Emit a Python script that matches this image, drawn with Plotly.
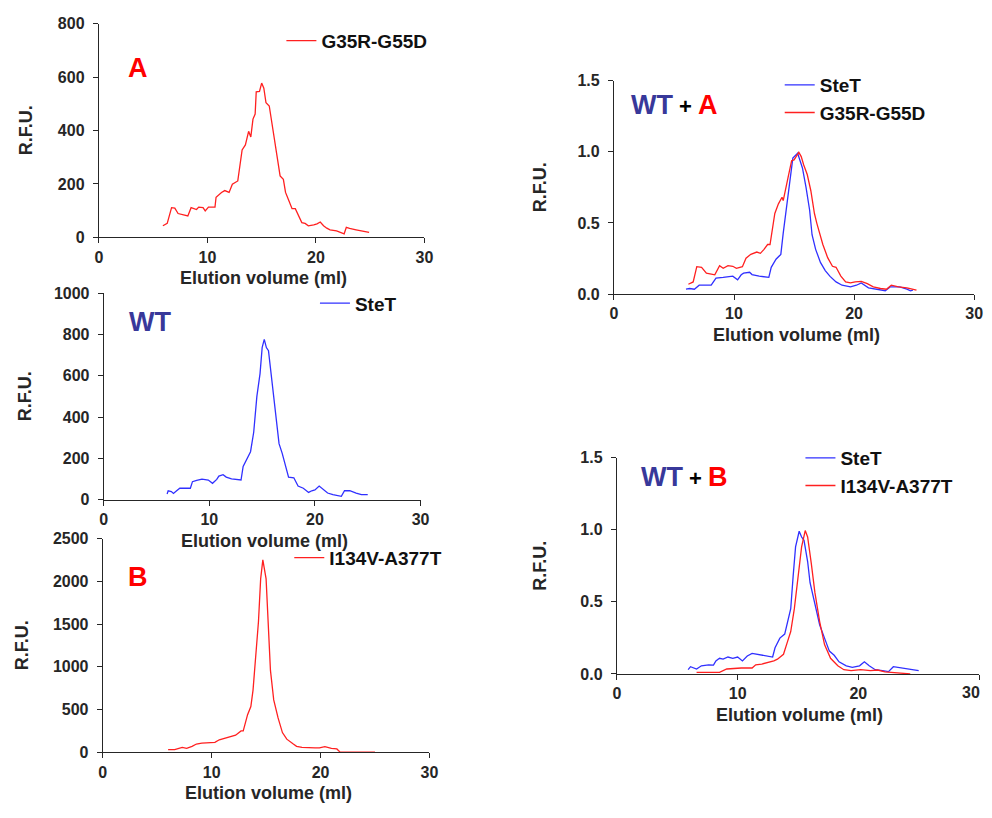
import plotly.graph_objects as go

# ---------------- data ----------------
x_ticks = [0, 10, 20, 30]
x_tick_text = ["0", "10", "20", "30"]

# Panel A : G35R-G55D (raw R.F.U.)
a_vol = [5.9, 6.3, 6.7, 7.0, 7.3, 7.9, 8.2, 8.5, 9.0, 9.2, 9.6, 9.8, 10.1, 10.7, 10.8, 11.3, 11.6, 12.0,
         12.3, 12.8, 12.9, 13.2, 13.5, 13.8, 14.0, 14.2, 14.4, 14.5, 14.8, 15.0, 15.2, 15.4, 15.7, 15.9,
         16.1, 16.4, 16.7, 17.0, 17.2, 17.5, 17.8, 18.1, 18.4, 18.7, 19.0, 19.3, 19.8, 20.1, 20.4, 20.7,
         21.0, 21.3, 21.9, 22.5, 22.6, 22.8, 23.1, 23.7, 24.2, 24.6, 24.9]
a_rfu = [43, 52, 111, 109, 89, 83, 80, 111, 104, 113, 111, 99, 113, 113, 150, 168, 175, 168,
         199, 211, 236, 327, 346, 397, 376, 443, 462, 545, 547, 578, 559, 504, 492, 437,
         376, 297, 230, 217, 168, 138, 107, 107, 83, 55, 52, 43, 46, 50, 57, 43,
         34, 28, 24, 16, 13, 37, 33, 28, 24, 18, 18]

# Panel WT : SteT (raw R.F.U.)
wt_vol = [6.0, 6.1, 6.4, 6.6, 6.9, 7.2, 8.2, 8.4, 8.8, 9.3, 9.9, 10.3, 10.7, 10.9, 11.3, 11.6, 12.1,
          13.0, 13.2, 13.6, 13.9, 14.2, 14.5, 14.8, 15.0, 15.2, 15.4, 15.6, 16.0, 16.2, 16.4, 16.6,
          16.9, 17.2, 17.5, 18.0, 18.4, 18.9, 19.4, 19.7, 20.0, 20.4, 20.8, 21.2, 21.7, 22.2, 22.5,
          22.8, 23.3, 23.9, 24.4, 25.0]
wt_rfu = [27, 43, 39, 30, 43, 55, 55, 87, 93, 99, 95, 79, 98, 114, 121, 109, 101,
          95, 161, 200, 232, 326, 500, 610, 736, 776, 736, 721, 531, 460, 358, 271,
          224, 169, 109, 106, 66, 55, 35, 43, 47, 66, 47, 32, 24, 19, 16,
          43, 43, 32, 24, 24]

# Panel B : I134V-A377T (raw R.F.U.)
b_vol = [6.0, 6.6, 7.3, 7.7, 8.2, 8.6, 9.1, 9.7, 10.3, 10.7, 11.2, 11.8, 12.2, 12.7, 12.9, 13.3,
         13.6, 13.8, 14.0, 14.3, 14.5, 14.7, 15.0, 15.2, 15.4, 15.7, 16.1, 16.5, 16.9, 17.5, 17.8,
         18.3, 18.9, 19.5, 19.9, 20.4, 21.0, 21.5, 21.8, 25.0]
b_rfu = [31, 31, 57, 46, 69, 96, 107, 115, 115, 146, 161, 180, 199, 249, 249, 440,
         536, 728, 1073, 1532, 2030, 2253, 2030, 1456, 958, 613, 402, 230, 153, 96, 69,
         57, 50, 50, 50, 65, 46, 38, 0, 0]

# Panel WT + A (normalised R.F.U.)
wta_stet_vol = [6.0, 6.3, 6.7, 7.1, 8.1, 8.5, 9.1, 9.5, 9.9, 10.3, 10.6, 10.8, 11.3, 11.5, 12.1, 12.9,
                13.1, 13.5, 13.9, 14.1, 14.4, 14.7, 14.9, 15.3, 15.5, 15.7, 16.0, 16.3, 16.5, 16.8,
                17.2, 17.6, 18.0, 18.5, 19.0, 19.7, 20.2, 20.6, 21.2, 21.9, 22.6, 23.0, 23.8, 24.4,
                24.7, 24.9]
wta_stet_rfu = [0.034, 0.039, 0.034, 0.062, 0.062, 0.112, 0.117, 0.119, 0.126, 0.100, 0.135, 0.147,
                0.153, 0.137, 0.126, 0.117, 0.188, 0.245, 0.279, 0.428, 0.634, 0.840, 0.955, 0.990,
                0.932, 0.886, 0.749, 0.589, 0.417, 0.314, 0.222, 0.165, 0.124, 0.085, 0.062, 0.050,
                0.062, 0.078, 0.044, 0.032, 0.023, 0.050, 0.050, 0.034, 0.023, 0.027]
wta_mut_vol = [6.2, 6.6, 6.9, 7.3, 7.7, 8.4, 8.8, 9.1, 9.5, 9.9, 10.2, 10.7, 11.0, 11.4, 11.9, 12.2,
               12.5, 12.8, 13.0, 13.2, 13.4, 13.7, 14.0, 14.1, 14.3, 14.5, 14.8, 15.0, 15.4, 15.6,
               15.8, 16.1, 16.4, 16.7, 16.9, 17.4, 17.8, 18.2, 18.5, 18.9, 19.3, 19.7, 20.1, 20.6,
               21.1, 21.6, 22.2, 22.7, 23.1, 23.7, 24.4, 24.9, 25.2]
wta_mut_rfu = [0.069, 0.085, 0.192, 0.188, 0.147, 0.135, 0.199, 0.181, 0.199, 0.195, 0.181, 0.192,
               0.252, 0.279, 0.295, 0.286, 0.314, 0.348, 0.348, 0.474, 0.566, 0.634, 0.680, 0.657,
               0.749, 0.818, 0.937, 0.943, 0.996, 0.966, 0.909, 0.840, 0.726, 0.566, 0.497, 0.348,
               0.256, 0.195, 0.188, 0.126, 0.085, 0.078, 0.085, 0.089, 0.073, 0.050, 0.039, 0.034,
               0.062, 0.050, 0.044, 0.034, 0.027]

# Panel WT + B (normalised R.F.U.)
wtb_stet_vol = [5.9, 6.1, 6.6, 7.0, 7.6, 8.0, 8.2, 8.5, 8.8, 9.2, 9.6, 10.0, 10.4, 10.8, 11.2, 11.6,
                12.2, 12.9, 13.1, 13.5, 13.9, 14.4, 14.6, 14.8, 15.1, 15.3, 15.5, 15.8, 16.0, 16.4,
                16.8, 17.2, 17.6, 18.0, 18.4, 19.0, 19.5, 20.1, 20.5, 20.9, 21.4, 22.0, 22.5, 22.9,
                23.6, 24.3, 25.0]
wtb_stet_rfu = [0.029, 0.050, 0.034, 0.056, 0.063, 0.061, 0.090, 0.108, 0.102, 0.117, 0.108, 0.117,
                0.090, 0.124, 0.142, 0.135, 0.124, 0.117, 0.181, 0.248, 0.276, 0.452, 0.678, 0.881,
                0.989, 0.949, 0.926, 0.779, 0.632, 0.474, 0.339, 0.248, 0.158, 0.129, 0.084, 0.056,
                0.045, 0.056, 0.084, 0.056, 0.029, 0.023, 0.016, 0.050, 0.041, 0.029, 0.023]
wtb_mut_vol = [6.6, 7.6, 8.1, 8.5, 9.1, 9.7, 10.3, 11.2, 11.5, 12.0, 12.6, 13.0, 13.3, 13.8, 14.1,
               14.4, 14.7, 15.0, 15.3, 15.6, 15.8, 16.1, 16.4, 16.8, 17.2, 17.7, 18.3, 18.8, 19.4,
               20.2, 21.0, 21.6, 22.0, 22.2, 24.3]
wtb_mut_rfu = [0.011, 0.011, 0.016, 0.011, 0.034, 0.038, 0.041, 0.041, 0.063, 0.068, 0.079, 0.090,
               0.102, 0.136, 0.215, 0.294, 0.452, 0.678, 0.881, 0.994, 0.949, 0.768, 0.565, 0.361,
               0.203, 0.108, 0.056, 0.029, 0.023, 0.029, 0.023, 0.027, 0.018, 0.014, 0.000]

# ---------------- styling ----------------
# the page body adds an 8 px margin, so the figure is shifted by that margin and every
# position below is given in window pixels.
OFF = 8
W, H = 992 - OFF, 818 - OFF
RED = "#ff2020"
BLUE = "#3030ff"
WTCOL = "#38389a"
INK = "#262626"
FONT = "Liberation Sans, Arial, sans-serif"
TICK_SIZE = 16


def px(x):
    return min(1.0, max(0.0, (x - OFF) / W))


def py(y):
    return min(1.0, max(0.0, 1 - (y - OFF) / H))


# panel boxes in window pixels: (left, right, top, bottom)
panels = {
    "A": (96, 426, 16, 234),
    "WT": (101, 422, 291, 502),
    "B": (100, 431, 542, 760),
    "WTA": (618, 983, 74, 292),
    "WTB": (621, 988, 459, 680),
}
yranges = {"A": (800, 200, None), "WT": (1000, 200, None), "B": (2500, 500, None),
           "WTA": (1.5, 0.5, ".1f"), "WTB": (1.5, 0.5, ".1f")}

fig = go.Figure()

order = ["A", "WT", "B", "WTA", "WTB"]
axis_ids = {}
for i, key in enumerate(order):
    n = "" if i == 0 else str(i + 1)
    axis_ids[key] = ("x" + n, "y" + n, "xaxis" + n, "yaxis" + n)
    l, r, t, b = panels[key]
    ymax, dt, fmt = yranges[key]
    common = dict(showgrid=False, zeroline=False, showline=True, linecolor=INK, linewidth=1.2,
                  ticks="outside", ticklen=5, tickwidth=1.2, tickcolor=INK,
                  tickfont=dict(family=FONT, size=TICK_SIZE, color=INK, weight="bold"),
                  fixedrange=True)
    labels = list(x_tick_text)
    if key == "WTB":
        # the last label would run past the window edge; it is drawn separately below
        labels[-1] = ""
    fig.layout[axis_ids[key][2]] = dict(domain=[px(l), px(r)], range=[0, 30], tickvals=x_ticks,
                                        ticktext=labels, anchor=axis_ids[key][1], **common)
    yax = dict(domain=[py(b), py(t)], range=[0, ymax], dtick=dt, tick0=0,
               anchor=axis_ids[key][0], ticklabelstandoff=5, **common)
    if fmt:
        yax["tickformat"] = fmt
    fig.layout[axis_ids[key][3]] = yax


def add(key, xs, ys, name, color, legend):
    xa, ya, _, _ = axis_ids[key]
    fig.add_trace(go.Scatter(x=xs, y=ys, mode="lines", name=name, xaxis=xa, yaxis=ya,
                             line=dict(color=color, width=1.3), legend=legend))


add("A", a_vol, a_rfu, "G35R-G55D", RED, "legend")
add("WT", wt_vol, wt_rfu, "SteT", BLUE, "legend2")
add("B", b_vol, b_rfu, "I134V-A377T", RED, "legend3")
add("WTA", wta_stet_vol, wta_stet_rfu, "SteT", BLUE, "legend4")
add("WTA", wta_mut_vol, wta_mut_rfu, "G35R-G55D", RED, "legend4")
add("WTB", wtb_stet_vol, wtb_stet_rfu, "SteT", BLUE, "legend5")
add("WTB", wtb_mut_vol, wtb_mut_rfu, "I134V-A377T", RED, "legend5")

leg_font = dict(family=FONT, size=19, color="#111111", weight="bold")


def legend_at(line_x, center_y):
    # legend box origin relative to the first entry's line start / centre
    return dict(x=px(line_x - 7), y=py(center_y - 27), xanchor="left", yanchor="top",
                bgcolor="rgba(0,0,0,0)", borderwidth=0, font=leg_font, tracegroupgap=0,
                itemwidth=30)


fig.update_layout(
    legend=legend_at(288, 41),
    legend2=legend_at(322, 309),
    legend3=legend_at(296, 569),
    legend4=legend_at(793, 86),
    legend5=legend_at(814, 467),
)

annotations = []


def note(xpix, ypix, text, size=18, color=INK, angle=0, xanchor="center", yanchor="middle"):
    annotations.append(dict(x=px(xpix), y=py(ypix), xref="paper", yref="paper", text=text,
                            showarrow=False, xanchor=xanchor, yanchor=yanchor, textangle=angle,
                            font=dict(family=FONT, size=size, color=color, weight="bold")))


# axis titles
for key, (l, r, t, b) in panels.items():
    note((l + r) / 2 + 2, b + 42, "Elution volume (ml)")
ylab_x = {"A": 22, "WT": 22, "B": 18, "WTA": 543, "WTB": 543}
for key, (l, r, t, b) in panels.items():
    note(ylab_x[key], (t + b) / 2, "R.F.U.", angle=-90)

# last x tick label of the WT + B panel, kept inside the window as in the reference
l, r, t, b = panels["WTB"]
note(r + 3, b + 8, x_tick_text[-1], size=TICK_SIZE, xanchor="right", yanchor="top")

# panel letters
note(136, 61, "A", size=27, color="#ff0000")
note(148, 321, "WT", size=27, color=WTCOL)
note(136, 581, "B", size=27, color="#ff0000")
note(633, 99, ("<span style='color:%s'>WT</span>"
               "<span style='font-size:22px'> + </span>"
               "<span style='color:#ff0000'>A</span>") % WTCOL,
     size=27, color="#000000", xanchor="left")
note(643, 479, ("<span style='color:%s'>WT</span>"
                "<span style='font-size:22px'> + </span>"
                "<span style='color:#ff0000'>B</span>") % WTCOL,
     size=27, color="#000000", xanchor="left")

fig.update_layout(width=W, height=H, margin=dict(l=0, r=0, t=0, b=0),
                  paper_bgcolor="white", plot_bgcolor="white", annotations=annotations,
                  showlegend=True)

fig.write_html("out.html")
